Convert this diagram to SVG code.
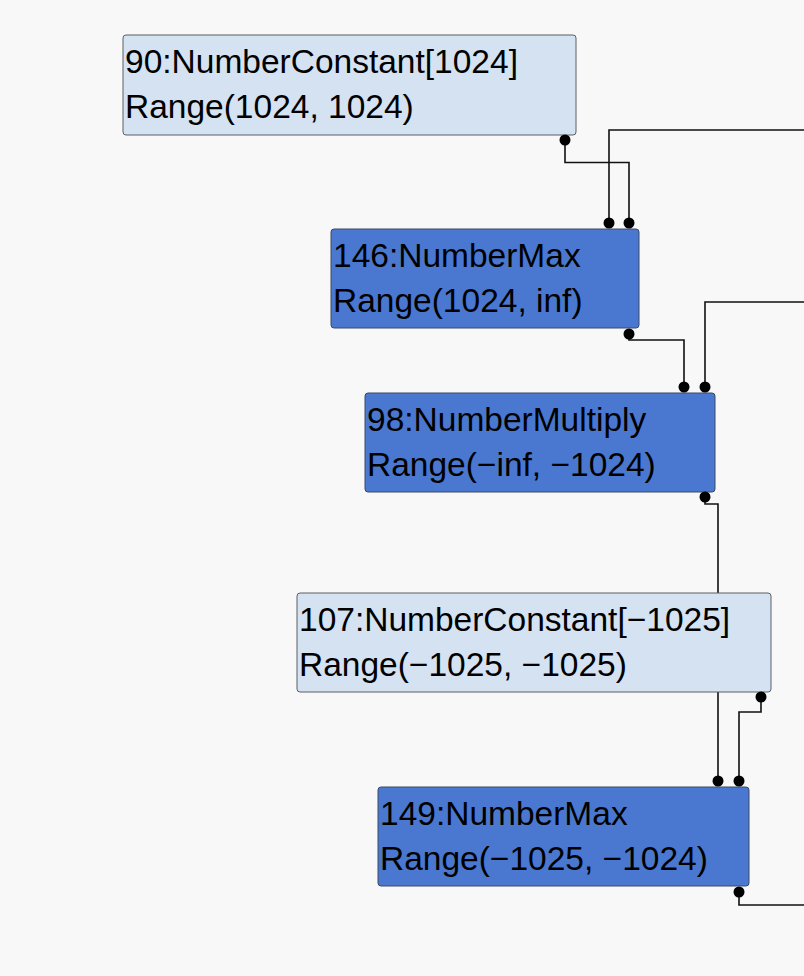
<svg xmlns="http://www.w3.org/2000/svg" width="804" height="976" viewBox="0 0 804 976">
<style>
.bg{fill:#f8f8f8}
.light rect{fill:#d4e2f2;stroke:#5a5f66;stroke-width:1}
.dark rect{fill:#4a78d0;stroke:#3a4a66;stroke-width:1}
text{font-family:"Liberation Sans",Arial,sans-serif;font-size:33.5px;fill:#000}
.wire{fill:none;stroke:#111;stroke-width:1.6}
.dot{fill:#000}
</style>
<rect class="bg" x="0" y="0" width="804" height="976"/>
<g id="connectors">
<path class="wire" d="M565,140 V162.5 H629 V223"/>
<path class="wire" d="M804,130 H609 V223"/>
<path class="wire" d="M629,334 V340 H684 V388"/>
<path class="wire" d="M804,302 H705 V388"/>
<path class="wire" d="M705,497 V504 H718 V781"/>
<path class="wire" d="M761,697 V712 H739 V781"/>
<path class="wire" d="M739,892 V905 H804"/>
</g>
<g id="node90" class="light">
<rect x="123" y="35" width="453" height="100" rx="3"/>
<text x="125" y="73">90:NumberConstant[1024]</text>
<text x="125" y="118">Range(1024, 1024)</text>
</g>
<g id="node146" class="dark">
<rect x="331" y="229" width="308" height="99" rx="3"/>
<text x="333" y="267">146:NumberMax</text>
<text x="333" y="312">Range(1024, inf)</text>
</g>
<g id="node98" class="dark">
<rect x="365" y="393" width="350" height="99" rx="3"/>
<text x="367" y="431">98:NumberMultiply</text>
<text x="367" y="476">Range(−inf, −1024)</text>
</g>
<g id="node107" class="light">
<rect x="297" y="593" width="474" height="99" rx="3"/>
<text x="299" y="631">107:NumberConstant[−1025]</text>
<text x="299" y="676">Range(−1025, −1025)</text>
</g>
<g id="node149" class="dark">
<rect x="378" y="787" width="371" height="99" rx="3"/>
<text x="380" y="825">149:NumberMax</text>
<text x="380" y="870">Range(−1025, −1024)</text>
</g>
<g id="ports">
<circle class="dot" cx="565" cy="140" r="5.5"/>
<circle class="dot" cx="609" cy="223" r="5.5"/>
<circle class="dot" cx="629" cy="223" r="5.5"/>
<circle class="dot" cx="629" cy="334" r="5.5"/>
<circle class="dot" cx="684" cy="387" r="5.5"/>
<circle class="dot" cx="705" cy="387" r="5.5"/>
<circle class="dot" cx="705" cy="497" r="5.5"/>
<circle class="dot" cx="761" cy="697" r="5.5"/>
<circle class="dot" cx="718" cy="781" r="5.5"/>
<circle class="dot" cx="739" cy="781" r="5.5"/>
<circle class="dot" cx="739" cy="892" r="5.5"/>
</g>
</svg>
